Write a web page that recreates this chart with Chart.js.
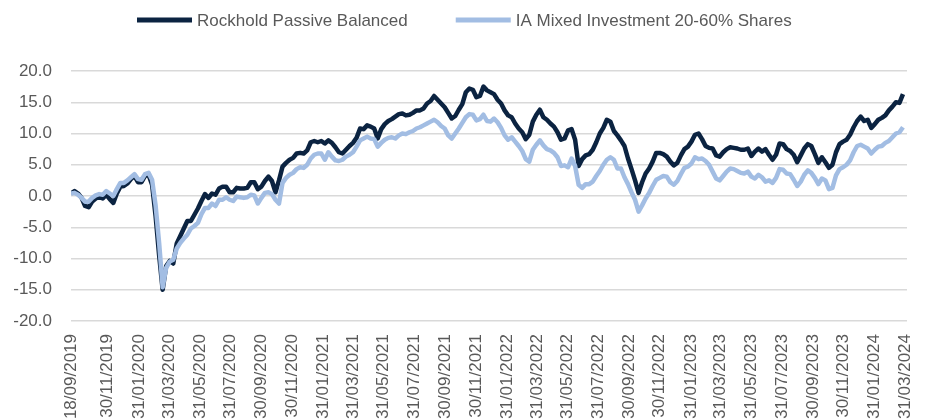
<!DOCTYPE html>
<html>
<head>
<meta charset="utf-8">
<script src="https://cdn.jsdelivr.net/npm/chart.js@4.4.1/dist/chart.umd.min.js"></script>
<style>
    html, body { margin: 0; padding: 0; background: #ffffff; }
    #wrap { position: relative; width: 925px; height: 419px; }
</style>
</head>
<body>
<div id="wrap"><canvas id="perfChart"></canvas></div>
<script>
// weekly samples starting 18/09/2019, cumulative % return
const startDate = '18/09/2019';
const endDate = '31/03/2024';
const stepDays = 7;

const seriesNames = ['Rockhold Passive Balanced', 'IA Mixed Investment 20-60% Shares'];

const rockhold = [
    0.4, 0.8, 0.4, -0.3, -1.6, -1.8, -0.9, -0.4, -0.2, -0.4, 0.2, -0.5, -1.1, 0.4, 1.5, 1.6, 2.0, 2.7, 3.2, 2.2,
    2.2, 3.2, 3.4, 1.8, -3.2, -9.5, -15.0, -11.2, -10.4, -10.8, -7.6, -6.4, -5.2, -4.0, -4.0, -3.0, -2.0, -0.8, 0.3, -0.3,
    0.4, 0.2, 1.2, 1.5, 1.5, 0.6, 0.6, 1.3, 1.2, 1.2, 1.3, 2.2, 2.2, 1.1, 1.5, 2.4, 3.1, 2.4, 0.6, 2.5,
    4.7, 5.3, 5.8, 6.1, 6.8, 6.9, 6.8, 7.3, 8.6, 8.8, 8.6, 8.8, 8.4, 8.9, 8.5, 7.8, 7.0, 6.8, 7.4, 8.0,
    8.5, 9.3, 10.8, 10.7, 11.3, 11.1, 10.8, 9.2, 10.7, 11.5, 12.0, 12.3, 12.7, 13.1, 13.2, 12.9, 13.0, 13.3, 13.7, 13.7,
    14.0, 14.8, 15.2, 16.0, 15.4, 14.8, 14.2, 13.3, 12.4, 12.8, 13.8, 14.7, 16.6, 17.2, 17.0, 15.8, 16.0, 17.5, 16.9, 16.6,
    16.3, 15.4, 14.8, 13.7, 12.9, 12.6, 11.6, 10.8, 10.2, 9.1, 9.8, 11.9, 13.0, 13.8, 12.6, 12.2, 11.6, 11.1, 10.2, 9.0,
    9.2, 10.5, 10.7, 9.0, 4.8, 5.9, 6.5, 6.7, 7.4, 8.6, 10.0, 10.9, 12.2, 11.9, 10.4, 9.7, 8.9, 8.0, 6.0, 4.3,
    2.5, 0.5, 2.2, 3.6, 4.4, 5.5, 6.9, 6.9, 6.7, 6.3, 5.5, 4.9, 5.3, 6.5, 7.5, 7.9, 8.7, 9.8, 10.0, 9.1,
    8.0, 7.7, 7.6, 6.5, 6.3, 7.0, 7.5, 7.8, 7.7, 7.6, 7.4, 7.4, 7.6, 6.4, 7.1, 7.6, 7.1, 7.5, 6.6, 5.8,
    6.6, 8.4, 8.3, 7.5, 7.2, 6.6, 5.4, 6.5, 7.6, 8.3, 8.0, 6.7, 5.3, 6.2, 5.4, 4.5, 5.0, 7.0, 8.3, 8.7,
    9.0, 9.8, 11.0, 12.0, 12.7, 12.0, 12.2, 10.9, 11.5, 12.2, 12.5, 12.9, 13.7, 14.3, 15.0, 14.9, 16.3
];

const iaMixed = [
    0.4, 0.5, 0.2, -0.3, -0.9, -0.9, -0.3, 0.1, 0.3, 0.2, 0.8, 0.4, 0.0, 1.1, 2.1, 2.1, 2.5, 3.0, 3.5, 2.7,
    2.6, 3.5, 3.7, 2.6, -1.5, -7.5, -14.6, -11.5, -10.5, -10.2, -8.4, -7.5, -6.8, -6.2, -5.2, -4.8, -4.3, -2.9, -1.9, -1.9,
    -1.2, -1.6, -0.6, -0.6, -0.2, -0.6, -0.8, -0.1, -0.2, -0.3, -0.2, 0.2, 0.1, -1.2, -0.3, 0.5, 0.6, 0.3, -0.6, -1.2,
    2.1, 2.9, 3.4, 3.7, 4.3, 4.6, 4.5, 5.0, 6.0, 6.6, 6.8, 6.8, 5.8, 7.0, 6.3, 5.7, 5.6, 5.8, 6.3, 6.6,
    7.0, 7.9, 8.9, 9.2, 9.5, 9.2, 9.1, 7.9, 8.5, 9.0, 9.3, 9.4, 9.2, 9.7, 10.0, 9.9, 10.2, 10.4, 10.8, 11.0,
    11.3, 11.6, 11.9, 12.2, 11.8, 11.2, 10.8, 9.7, 9.2, 10.0, 10.8, 11.7, 12.6, 13.1, 13.0, 12.1, 12.3, 13.0, 12.0, 11.9,
    12.4, 11.8, 10.9, 9.7, 9.0, 9.4, 8.7, 8.0, 7.2, 5.9, 5.5, 7.4, 8.2, 8.9, 8.1, 7.5, 7.3, 6.9, 6.2, 4.8,
    4.9, 4.6, 6.0, 4.8, 1.8, 1.3, 1.9, 1.9, 2.3, 3.2, 4.0, 5.0, 5.8, 6.2, 5.8, 4.4, 4.4, 3.0, 1.9, 0.6,
    -0.6, -2.5, -1.5, -0.4, 0.5, 1.6, 2.6, 2.9, 3.2, 3.1, 2.2, 1.8, 2.4, 3.5, 4.5, 4.7, 5.2, 6.2, 5.9, 6.0,
    5.6, 5.0, 3.9, 2.8, 2.5, 3.2, 3.9, 4.4, 4.3, 4.0, 3.7, 3.6, 3.9, 3.1, 2.8, 3.4, 3.0, 2.3, 2.5, 2.1,
    2.9, 4.3, 4.2, 3.6, 3.5, 2.6, 1.6, 2.3, 3.4, 4.1, 3.7, 2.9, 1.9, 2.8, 2.5, 1.1, 1.3, 3.3, 4.3, 4.6,
    5.0, 5.7, 7.0, 8.0, 8.2, 7.9, 7.6, 6.8, 7.4, 7.9, 8.0, 8.5, 8.8, 9.4, 10.0, 10.2, 11.0
];

const xTickLabels = [
    '18/09/2019', '30/11/2019', '31/01/2020', '31/03/2020', '31/05/2020', '31/07/2020', '30/09/2020',
    '30/11/2020', '31/01/2021', '31/03/2021', '31/05/2021', '31/07/2021', '30/09/2021', '30/11/2021',
    '31/01/2022', '31/03/2022', '31/05/2022', '31/07/2022', '30/09/2022', '30/11/2022', '31/01/2023',
    '31/03/2023', '31/05/2023', '31/07/2023', '30/09/2023', '30/11/2023', '31/01/2024', '31/03/2024'
];

const yMin = -20, yMax = 20, yStep = 5;

const darkColor = '#0b2341';
const lightColor = '#a2bde3';
const textColor = '#595959';

function parseDate(s) {
    const p = s.split('/');
    return Date.UTC(+p[2], +p[1] - 1, +p[0]);
}
function daysFromStart(s) {
    return Math.round((parseDate(s) - parseDate(startDate)) / 86400000);
}

// narrow face when the machine has it, otherwise plain Liberation Sans
function hasFont(name) {
    const c = document.createElement('canvas').getContext('2d');
    c.font = '20px monospace';
    const a = c.measureText('Rockhold Passive Balanced 20.0').width;
    c.font = "20px '" + name + "', monospace";
    const b = c.measureText('Rockhold Passive Balanced 20.0').width;
    return a !== b;
}
const narrow = hasFont('Liberation Sans Narrow');
const fontFamily = narrow ? "'Liberation Sans Narrow', 'Liberation Sans', Arial, sans-serif" : "'Liberation Sans', Arial, sans-serif";
const fontSize = narrow ? 21 : 17;

const tickDays = xTickLabels.map(daysFromStart);
const lastDay = daysFromStart(endDate);

const toPoints = values => values.map((v, i) => ({ x: i * stepDays, y: v }));

const topLegend = {
    id: 'topLegend',
    afterDraw(chart) {
        const ctx = chart.ctx;
        const lineLen = 55, gap = 5, itemGap = 48, y = 20;
        ctx.save();
        ctx.font = fontSize + 'px ' + fontFamily;
        ctx.textBaseline = 'middle';
        const sets = chart.data.datasets;
        const widths = sets.map(d => ctx.measureText(d.label).width);
        let total = itemGap * (sets.length - 1);
        widths.forEach(w => { total += lineLen + gap + w; });
        let x = Math.round((chart.width - total) / 2) + 2;
        sets.forEach((d, i) => {
            ctx.strokeStyle = d.borderColor;
            ctx.lineWidth = 5;
            ctx.beginPath();
            ctx.moveTo(x, y);
            ctx.lineTo(x + lineLen, y);
            ctx.stroke();
            ctx.fillStyle = textColor;
            ctx.fillText(d.label, x + lineLen + gap, y + 1);
            x += lineLen + gap + widths[i] + itemGap;
        });
        ctx.restore();
    }
};

const ctx = document.getElementById('perfChart').getContext('2d');
new Chart(ctx, {
    type: 'line',
    data: {
        datasets: [
            {
                label: seriesNames[0],
                data: toPoints(rockhold),
                borderColor: darkColor,
                backgroundColor: darkColor,
                borderWidth: 4.5,
                pointRadius: 0,
                tension: 0,
                borderJoinStyle: 'round',
                order: 2
            },
            {
                label: seriesNames[1],
                data: toPoints(iaMixed),
                borderColor: lightColor,
                backgroundColor: lightColor,
                borderWidth: 4.5,
                pointRadius: 0,
                tension: 0,
                borderJoinStyle: 'round',
                order: 1
            }
        ]
    },
    options: {
        responsive: true,
        maintainAspectRatio: false,
        animation: false,
        layout: { padding: { top: 71, right: 18, bottom: 0, left: 0 } },
        scales: {
            x: {
                type: 'linear',
                min: 0,
                max: lastDay + 4,
                afterBuildTicks: scale => { scale.ticks = tickDays.map(v => ({ value: v })); },
                afterFit: scale => {
                    scale.height = 98;
                    scale.paddingLeft = 0;
                    scale.paddingRight = 0;
                },
                ticks: {
                    autoSkip: false,
                    minRotation: 90,
                    maxRotation: 90,
                    padding: 5,
                    color: textColor,
                    font: { family: fontFamily, size: fontSize },
                    callback: (value, index) => xTickLabels[index]
                },
                grid: { display: false },
                border: { display: false }
            },
            y: {
                min: yMin,
                max: yMax,
                afterFit: scale => { scale.width = 71; },
                ticks: {
                    stepSize: yStep,
                    padding: 19,
                    color: textColor,
                    font: { family: fontFamily, size: fontSize },
                    callback: value => value.toFixed(1)
                },
                grid: {
                    color: '#d9d9d9',
                    lineWidth: 1.5,
                    drawTicks: false
                },
                border: { display: false }
            }
        },
        plugins: {
            legend: { display: false },
            tooltip: { enabled: false }
        }
    },
    plugins: [topLegend]
});
</script>
</body>
</html>
